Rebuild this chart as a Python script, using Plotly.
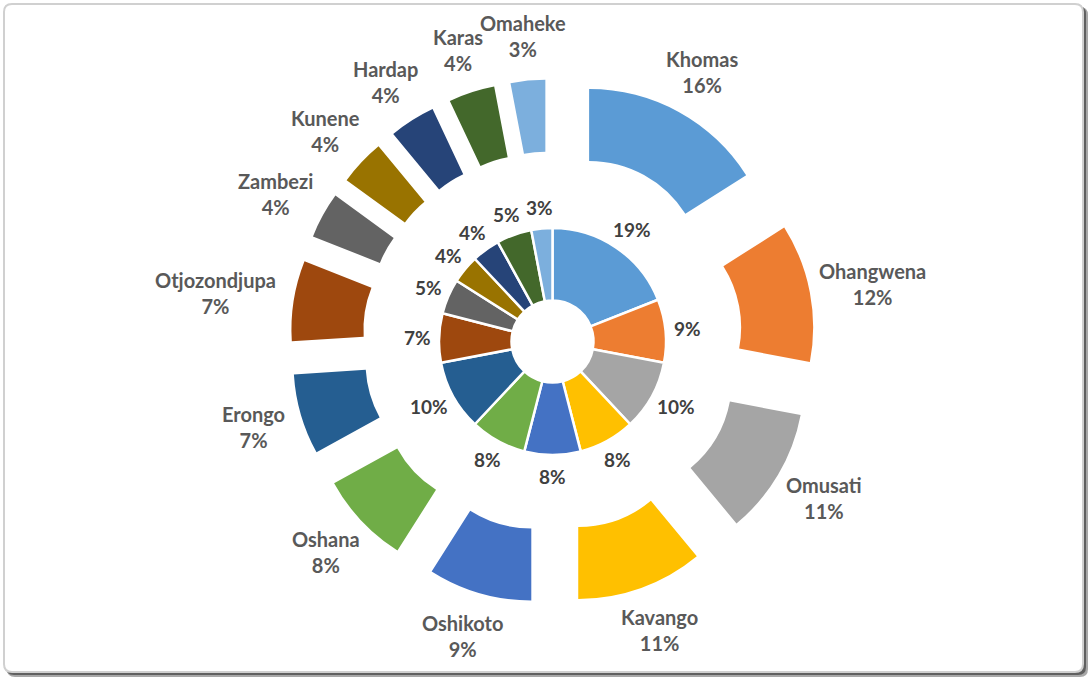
import math
import re
import plotly.graph_objects as go

regions = ["Khomas", "Ohangwena", "Omusati", "Kavango", "Oshikoto", "Oshana",
           "Erongo", "Otjozondjupa", "Zambezi", "Kunene", "Hardap", "Karas", "Omaheke"]
outer_pct = [16, 12, 11, 11, 9, 8, 7, 7, 4, 4, 4, 4, 3]
inner_pct = [19, 9, 10, 8, 8, 8, 10, 7, 5, 4, 4, 5, 3]
colors = ["#5B9BD5", "#ED7D31", "#A5A5A5", "#FFC000", "#4472C4", "#70AD47",
          "#255E91", "#9E480E", "#636363", "#997300", "#264478", "#43682B", "#7CAFDD"]

W, H = 1092, 678
CX, CY = 552.5, 341.5          # pie centre in pixels
R_OUT, R_OUT_HOLE, PULL_PX = 186, 114, 76
R_IN, R_IN_HOLE = 113.5, 41

def domain(half):
    return dict(x=[(CX - half) / W, (CX + half) / W],
                y=[1 - (CY + half) / H, 1 - (CY - half) / H])

pull = PULL_PX / R_OUT
fig = go.Figure()
fig.add_trace(go.Pie(
    labels=regions, values=outer_pct, sort=False, direction="clockwise", rotation=0,
    hole=R_OUT_HOLE / R_OUT, pull=pull, textinfo="none", showlegend=False,
    marker=dict(colors=colors, line=dict(width=0, color="white")),
    domain=domain(R_OUT * (1 + pull)), name="Outer"))
fig.add_trace(go.Pie(
    labels=regions, values=inner_pct, sort=False, direction="clockwise", rotation=0,
    hole=R_IN_HOLE / R_IN, textinfo="none", showlegend=False,
    marker=dict(colors=colors, line=dict(width=2.5, color="white")),
    domain=domain(R_IN), name="Inner"))

FONT = "Lato"
annotations = []

def place(values, texts, r0, fsize, lineh, wfac, color):
    total = sum(values)
    cum = 0
    for v, t in zip(values, texts):
        theta = math.radians((cum + v / 2) / total * 360)
        cum += v
        lines = re.sub(r"</?b>", "", t).split("<br>")
        w = max(len(s) for s in lines) * fsize * wfac
        h = len(lines) * lineh
        ux, uy = math.sin(theta), -math.cos(theta)
        px = CX + r0 * ux + w / 2 * ux
        py = CY + r0 * uy + h / 2 * uy
        annotations.append(dict(x=px / W, y=1 - py / H, xref="paper", yref="paper",
                                text=t, showarrow=False, xanchor="center", yanchor="middle",
                                font=dict(family=FONT, size=fsize, color=color)))

place(outer_pct, [f"<b>{r}</b><br><b>{p}%</b>" for r, p in zip(regions, outer_pct)],
      281, 20, 26, 0.5, "#595959")
place(inner_pct, [f"<b>{p}%</b>" for p in inner_pct], 125, 19, 20, 0.55, "#404040")

# chart frame with shadow
def rrect(x0, y0, x1, y1, r):
    X = lambda v: f"{v / W:.5f}"
    Y = lambda v: f"{1 - v / H:.5f}"
    return (f"M {X(x0 + r)},{Y(y0)} L {X(x1 - r)},{Y(y0)} Q {X(x1)},{Y(y0)} {X(x1)},{Y(y0 + r)} "
            f"L {X(x1)},{Y(y1 - r)} Q {X(x1)},{Y(y1)} {X(x1 - r)},{Y(y1)} "
            f"L {X(x0 + r)},{Y(y1)} Q {X(x0)},{Y(y1)} {X(x0)},{Y(y1 - r)} "
            f"L {X(x0)},{Y(y0 + r)} Q {X(x0)},{Y(y0)} {X(x0 + r)},{Y(y0)} Z")

shapes = [
    dict(type="path", xref="paper", yref="paper", path=rrect(7, 7, 1088, 677, 8),
         fillcolor="#A8A8A8", line=dict(width=0), layer="below"),
    dict(type="path", xref="paper", yref="paper", path=rrect(6, 6, 1086, 675, 8),
         fillcolor="#606060", line=dict(width=0), layer="below"),
    dict(type="path", xref="paper", yref="paper", path=rrect(4, 4, 1083, 672, 8),
         fillcolor="white", line=dict(width=2, color="#D0D0D0"), layer="below"),
]

fig.update_layout(width=W, height=H, margin=dict(l=0, r=0, t=0, b=0),
                  paper_bgcolor="white", plot_bgcolor="white",
                  annotations=annotations, shapes=shapes)
fig.write_html("out.html", config={"displayModeBar": False},
               post_script="document.body.style.margin='0px';")
